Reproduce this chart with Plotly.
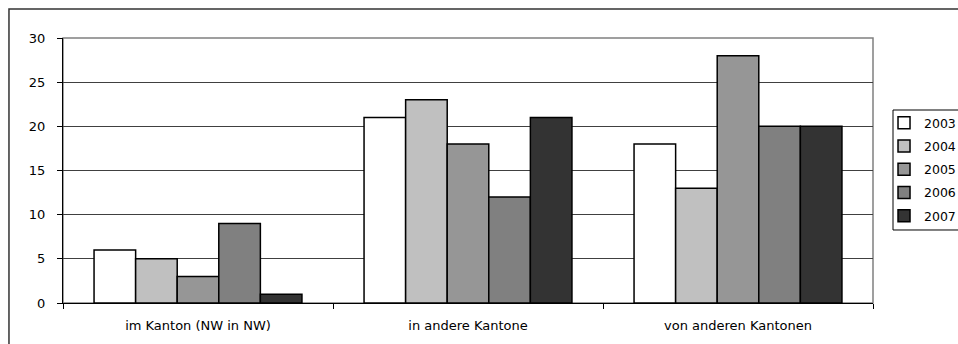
import plotly.graph_objects as go

# Data
categories = ["im Kanton (NW in NW)", "in andere Kantone", "von anderen Kantonen"]
years = ["2003", "2004", "2005", "2006", "2007"]
values_2003 = [6, 21, 18]
values_2004 = [5, 23, 13]
values_2005 = [3, 18, 28]
values_2006 = [9, 12, 20]
values_2007 = [1, 21, 20]
series = [values_2003, values_2004, values_2005, values_2006, values_2007]
colors = ["#FFFFFF", "#C0C0C0", "#969696", "#808080", "#333333"]

fig = go.Figure()
for year, vals, col in zip(years, series, colors):
    fig.add_trace(go.Bar(
        name=year, x=categories, y=vals, legendgroup=year,
        marker=dict(color=col, line=dict(color="black", width=1.5)),
    ))

# plot area frame (grey top/right), outer chart border, legend box
fig.add_shape(type="rect", xref="paper", yref="paper", x0=0, y0=0, x1=1, y1=1,
              line=dict(color="#808080", width=1.5), layer="below")
fig.add_shape(type="rect", xref="paper", yref="paper", x0=-0.0667, y0=-0.4, x1=1.3, y1=1.109,
              line=dict(color="#333333", width=1.5), layer="below")
fig.add_shape(type="rect", xref="paper", yref="paper", x0=1.0247, y0=0.2755, x1=1.2, y1=0.7283,
              line=dict(color="black", width=1), layer="below")

fig.update_layout(
    width=958, height=344,
    margin=dict(l=63, r=85, t=38, b=41, autoexpand=False),
    paper_bgcolor="white", plot_bgcolor="white",
    barmode="group", bargap=0.23, bargroupgap=0,
    font=dict(family="DejaVu Sans, Arial, sans-serif", size=13, color="black"),
    showlegend=True,
    legend=dict(
        x=1.0136, y=0.7358, xanchor="left", yanchor="top",
        borderwidth=0, bgcolor="rgba(0,0,0,0)",
        font=dict(size=12.5), tracegroupgap=4,
    ),
    xaxis=dict(
        range=[-0.5, 2.5], showline=True, linecolor="black", linewidth=1,
        ticks="outside", tickson="boundaries", ticklen=5, tickcolor="black",
        showgrid=False, tickfont=dict(size=13), ticklabelstandoff=10,
    ),
    yaxis=dict(
        range=[0, 30], dtick=5, showline=True, linecolor="black", linewidth=1,
        ticks="outside", ticklen=5, tickcolor="black",
        showgrid=True, gridcolor="#404040", gridwidth=1,
        zeroline=False, tickfont=dict(size=13), ticklabelstandoff=9,
    ),
)

# drop the default 8px page margin so the figure fills the window
fig.write_html("out.html", config={"displayModeBar": False},
               post_script="document.body.style.margin='0';document.body.style.overflow='hidden';")
